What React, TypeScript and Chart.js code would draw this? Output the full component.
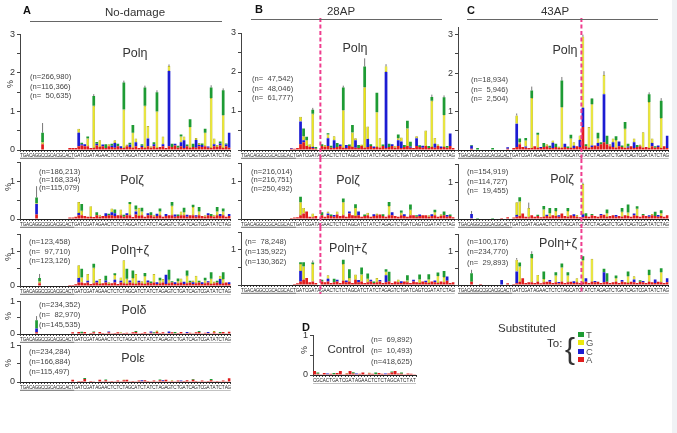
import React, { useEffect, useRef } from "react";
import { Chart, registerables } from "chart.js";
Chart.register(...registerables);

const FONT = "'Liberation Sans', Arial, Helvetica, sans-serif";
Chart.defaults.font.family = FONT;

const SUB_COLORS: Record<string, string> = { T: "#1e9b34", G: "#ebe80e", C: "#1c1cd2", A: "#e01c1c" };
const SUB_BORDERS: Record<string, string> = { T: "#1e9b34", G: "#a9a012", C: "#1c1cd2", A: "#e01c1c" };
const SUB_LABELS = ["T", "G", "C", "A"];

const TEMPLATE_SEQ = "TGACAGGCCGCACGCACTGATCGATAGAACTCTCTAGCATCTATCTAGAGTCTGATCAGTCGATATCTAG".split("");
const CONTROL_SEQ = "CGCACTGATCGATAGAACTCTCTAGCATCTAT".split("");
const PRIMER_LEN = 18;

// ---------- A: No-damage, Pol eta ----------
const etaA_A = [0,0,0,0,0,0,0,0.15,0,0, 0,0,0,0,0,0,0.05,0.05,0.05,0.1, 0.12,0.1,0.1,0.05,0.05,0.12,0.08,0.1,0.05,0.1, 0.08,0.06,0.1,0.05,0.05,0.1,0.08,0.06,0.1,0.05, 0.08,0.05,0.1,0.06,0.1,0.05,0.08,0.1,0.05,0.1, 0.08,0.12,0.06,0.1,0.05,0.1,0.05,0.08,0.06,0.1, 0.08,0.1,0.06,0.05,0.1,0.08,0.12,0.05,0.1,0.06];
const etaA_C = [0,0,0,0,0,0,0,0,0,0, 0,0,0,0,0,0,0,0,0,0.35, 0.03,0.05,0,0,0,0.04,0,0.04,0,0, 0.03,0.12,0,0.05,0,0,0.06,0,0.1,0, 0.03,0,0.2,0,0.05,0,0,0.05,0,1.95, 0,0.04,0,0.1,0.2,0,0,0,0.2,0.03, 0.05,0,0.03,0,0.05,0,0.05,0,0.04,0.39];
const etaA_G = [0,0,0,0,0,0,0,0.05,0,0, 0,0,0,0,0,0,0,0,0,0.1, 0,0,0.2,0,1.1,0,0.17,0,0,0.05, 0,0.07,0,0,1.0,0.04,0,0.39,0.1,0, 0,1.1,0.32,0.04,0,0.95,0,0.2,0,0.13, 0,0,0,0.15,0.1,0,0.55,0,0.05,0.05, 0,0.35,0,1.3,0.15,0.05,0,0.85,0,0];
const etaA_T = [0,0,0,0,0,0,0,0.25,0,0, 0,0,0,0,0,0,0,0,0,0, 0.04,0,0.05,0,0.25,0.05,0,0,0.1,0, 0.05,0,0.06,0,0.7,0,0.05,0.2,0,0, 0.04,0.47,0,0,0.05,0.5,0,0,0,0, 0.08,0,0.05,0.05,0,0.04,0.2,0.08,0,0, 0.04,0.1,0,0.27,0,0,0.05,0.65,0.03,0];
const etaA_err = [[7,0.7],[24,1.45],[34,1.8],[41,1.67],[45,1.55],[49,2.22],[56,0.8],[63,1.68],[67,1.6]];

// ---------- A: Pol zeta ----------
const zetaA_A = [0,0,0,0,0,0.12,0,0,0,0, 0,0,0,0,0,0,0.04,0.04,0.06,0.1, 0.1,0.08,0.06,0.06,0.05,0.1,0.06,0.08,0.08,0.1, 0.1,0.08,0.1,0.1,0.06,0.1,0.1,0.05,0.12,0.08, 0.1,0.06,0.1,0.1,0.06,0.08,0.1,0.06,0.08,0.1, 0.1,0.06,0.08,0.1,0.1,0.06,0.1,0.1,0.06,0.1, 0.08,0.06,0.1,0.08,0.06,0.1,0.08,0.1,0.06,0.08];
const zetaA_C = [0,0,0,0,0,0.28,0,0,0,0, 0,0,0,0,0,0,0,0,0,0.06, 0,0,0,0,0,0,0,0,0.07,0, 0.08,0.07,0,0,0,0.05,0,0,0.08,0, 0,0,0.05,0,0,0.06,0,0,0.05,0, 0,0.06,0,0,0,0.05,0,0,0.04,0, 0,0,0.05,0,0,0,0.05,0,0,0.05];
const zetaA_G = [0,0,0,0,0,0.02,0,0,0,0, 0,0,0,0,0,0,0,0,0,0.29, 0.12,0,0,0.28,0,0,0.05,0,0,0, 0.1,0,0,0.15,0,0,0.3,0,0.05,0.22, 0.1,0,0,0,0.05,0,0.1,0,0,0, 0.25,0,0,0.1,0.08,0,0,0.22,0,0.1, 0,0.04,0,0,0.05,0.1,0,0.1,0,0];
const zetaA_T = [0,0,0,0,0,0.15,0,0,0,0, 0,0,0,0,0,0,0,0,0,0, 0.18,0,0,0,0,0.08,0,0,0,0.04, 0,0.1,0,0,0.05,0,0.05,0,0.11,0, 0.1,0,0,0.08,0,0,0.08,0,0,0, 0.1,0,0.04,0,0.12,0,0,0.06,0,0.12, 0,0,0,0.05,0,0.12,0,0.08,0,0];
const zetaA_err = [[5,0.87]];

// ---------- A: Pol eta + zeta ----------
const ezA_A = [0,0,0,0,0,0,0.08,0,0,0, 0,0,0,0,0,0,0.03,0.03,0.05,0.1, 0.1,0.08,0.1,0.06,0.08,0.1,0.06,0.08,0.1,0.06, 0.08,0.1,0.06,0.1,0.08,0.06,0.1,0.08,0.06,0.1, 0.08,0.06,0.1,0.08,0.1,0.06,0.08,0.1,0.06,0.08, 0.1,0.06,0.08,0.1,0.06,0.08,0.1,0.06,0.08,0.1, 0.06,0.08,0.1,0.06,0.08,0.1,0.06,0.08,0.1,0.06];
const ezA_C = [0,0,0,0,0,0,0,0,0,0, 0,0,0,0,0,0,0,0,0,0.13, 0,0,0.05,0,0,0.05,0,0,0.06,0, 0,0.08,0,0.05,0,0,0.06,0,0,0.05, 0,0,0.06,0,0,0.05,0,0,0.27,0, 0,0.05,0,0,0.06,0,0,0.05,0,0, 0.05,0,0.04,0,0,0,0.14,0,0,0.05];
const ezA_G = [0,0,0,0,0,0,0.05,0,0,0, 0,0,0,0,0,0,0,0,0,0.37, 0.15,0,0.2,0,0.45,0,0.14,0,0,0.05, 0,0.14,0,0.1,0.67,0.15,0,0.15,0.29,0, 0.06,0.22,0,0,0.25,0,0.08,0.1,0,0.1, 0,0,0.06,0.12,0,0.22,0,0.05,0.22,0, 0,0.08,0,0.15,0.05,0,0.1,0.12,0,0];
const ezA_T = [0,0,0,0,0,0,0.1,0,0,0, 0,0,0,0,0,0,0,0,0,0, 0.25,0,0,0,0.12,0,0,0,0.14,0, 0,0.05,0,0,0,0.29,0,0.22,0,0, 0,0.1,0,0.05,0,0,0.08,0,0,0.29, 0.04,0,0.08,0,0,0.15,0.05,0,0,0.05, 0,0.08,0,0.19,0,0.05,0,0.2,0,0];
const ezA_err = [[6,0.35]];

// ---------- A: Pol delta ----------
const deltaA_A = [0,0,0,0,0,0.05,0,0,0,0, 0,0,0,0,0,0,0,0.05,0,0.06, 0.02,0.06,0,0.03,0.05,0,0.06,0.03,0.02,0.05, 0.02,0.03,0.05,0.02,0.03,0.04,0.02,0.05,0.06,0.02, 0.03,0.05,0.02,0.04,0.02,0.06,0.03,0.05,0.02,0.03, 0.05,0.02,0.03,0.06,0.02,0.03,0.04,0.02,0.05,0.06, 0.02,0.04,0.03,0.02,0.05,0.02,0.03,0.06,0.02,0.07];
const deltaA_C = [0,0,0,0,0,0.12,0,0,0,0, 0,0,0,0,0,0,0,0,0,0, 0,0,0,0,0,0,0,0,0,0.03, 0,0,0,0,0,0,0,0,0,0, 0,0,0,0.04,0,0,0,0,0,0.05, 0,0,0,0,0,0.03,0,0,0,0, 0,0,0.03,0,0,0,0,0,0,0];
const deltaA_G = [0,0,0,0,0,0,0,0,0,0, 0,0,0,0,0,0,0,0,0,0, 0,0,0,0,0,0,0,0,0,0, 0,0,0,0.03,0,0,0,0,0,0, 0,0,0,0,0,0.05,0,0,0,0, 0,0,0,0,0,0,0,0.02,0,0, 0,0,0,0,0.04,0,0,0,0,0];
const deltaA_T = [0,0,0,0,0,0.25,0,0,0,0, 0,0,0,0,0,0,0,0,0,0, 0.05,0,0,0,0.03,0,0,0,0,0, 0,0,0,0,0,0,0,0,0.03,0, 0,0,0,0,0.03,0,0,0,0,0, 0,0.04,0,0,0,0,0,0,0,0.03, 0,0,0,0,0,0,0.03,0,0,0];
const deltaA_err = [[5,0.55]];

// ---------- A: Pol epsilon ----------
const epsA_A = [0,0,0,0,0,0,0,0,0,0, 0,0,0,0,0,0,0,0.06,0,0.03, 0.03,0.08,0,0.03,0.02,0,0.06,0.02,0.05,0.02, 0.03,0.02,0.04,0.02,0.05,0.06,0.02,0.03,0.02,0.04, 0.02,0.05,0.03,0.02,0.04,0.02,0.05,0.03,0.06,0.02, 0.03,0.02,0.04,0.02,0.03,0.05,0.02,0.06,0.03,0.02, 0.04,0.02,0.03,0.05,0.02,0.03,0.02,0.04,0.02,0.1];
const epsA_C = [0,0,0,0,0,0,0,0,0,0, 0,0,0,0,0,0,0,0,0,0, 0,0,0,0,0,0,0,0,0,0, 0,0,0,0,0,0,0,0,0,0, 0.03,0,0,0,0,0,0,0.02,0,0, 0,0,0,0.02,0,0,0,0,0,0, 0,0,0,0,0,0,0,0,0,0];
const epsA_G = [0,0,0,0,0,0,0,0,0,0, 0,0,0,0,0,0,0,0,0,0, 0,0,0,0,0,0,0,0,0,0, 0,0,0,0,0.02,0,0,0,0,0, 0,0,0,0,0,0,0,0,0,0, 0.02,0,0,0,0,0,0,0,0,0, 0,0,0,0,0,0,0,0,0,0];
const epsA_T = [0,0,0,0,0,0,0,0,0,0, 0,0,0,0,0,0,0,0,0,0, 0,0.03,0,0,0,0,0,0,0.02,0, 0,0,0,0,0,0,0,0,0,0, 0,0,0,0,0,0,0.02,0,0,0, 0,0,0,0,0,0,0,0.02,0,0, 0,0,0,0.03,0,0,0,0,0,0];

// ---------- B: 28AP ----------
const etaB_A = [0,0,0,0,0,0,0,0,0,0, 0,0,0,0,0,0,0.03,0.03,0.05,0.15, 0.2,0.1,0.08,0.05,0.03,0,0.1,0.08,0.1,0.06, 0.05,0.08,0.1,0.06,0.05,0.1,0.08,0.06,0.05,0.1, 0.06,0.08,0.1,0.05,0.08,0.06,0.1,0.05,0.08,0.1, 0.06,0.1,0.05,0.08,0.1,0.06,0.05,0.1,0.08,0.06, 0.1,0.05,0.08,0.06,0.1,0.05,0.08,0.06,0.1,0.05];
const etaB_C = [0,0,0,0,0,0,0,0,0,0, 0,0,0,0,0,0,0.02,0,0,0.58, 0.05,0,0,0.03,0,0,0,0,0.2,0, 0.2,0,0.04,0,0.08,0,0,0.19,0,0, 0,0.2,0,0.04,0,0,0,1.95,0,0.05, 0,0.15,0.17,0,0,0.03,0,0.2,0,0.05, 0,0,0,0.1,0,0.04,0,0,0.32,0];
const etaB_G = [0,0,0,0,0,0,0,0,0,0, 0,0,0,0,0,0,0,0,0,0.12, 0.1,0.15,0.07,0.85,0,0,0,0.05,0.1,0, 0.1,0,0,0.96,0,0,0.37,0.05,0,0.04, 1.55,0.32,0,0,0.89,0.24,0,0.15,0,0, 0.05,0.05,0.1,0,0.45,0,0,0.05,0,0, 0.4,0,1.18,0.15,0.05,0,0.82,0,0,0];
const etaB_T = [0,0,0,0,0,0,0,0,0,0, 0,0,0,0,0,0,0,0,0,0, 0.2,0.09,0,0.1,0.05,0,0.05,0,0.03,0.05, 0,0.1,0,0.58,0,0.04,0.19,0,0.08,0, 0.53,0,0.05,0,0.5,0,0.04,0,0.08,0, 0,0.1,0,0.05,0.2,0.12,0,0,0.04,0, 0,0.05,0.1,0,0,0,0.45,0.04,0,0];
const etaB_err = [[23,1.08],[33,1.65],[40,2.35],[47,2.2],[62,1.42],[66,1.4]];

const zetaB_A = [0,0,0,0,0,0,0,0,0,0, 0,0,0,0,0,0,0.03,0.04,0.05,0.1, 0.15,0.2,0.06,0.05,0.08,0,0.1,0.06,0.1,0.08, 0.06,0.12,0.08,0.1,0.06,0.15,0.1,0.08,0.1,0.06, 0.08,0.1,0.06,0.08,0.1,0.12,0.08,0.06,0.1,0.1, 0.08,0.06,0.1,0.08,0.06,0.1,0.1,0.06,0.08,0.1, 0.1,0.06,0.08,0.1,0.06,0.08,0.1,0.06,0.08,0.05];
const zetaB_C = [0,0,0,0,0,0,0,0,0,0, 0,0,0,0,0,0,0,0,0,0, 0,0,0,0,0,0,0,0,0.05,0, 0.05,0,0,0,0,0.05,0,0,0.1,0, 0,0,0,0.05,0,0,0,0,0,0.08, 0,0,0,0.05,0,0,0,0,0.04,0, 0,0,0.05,0,0,0,0,0.05,0,0];
const zetaB_G = [0,0,0,0,0,0,0,0,0,0, 0,0,0,0,0,0,0,0,0,0.35, 0.15,0,0,0.1,0,0,0,0,0.05,0, 0,0.08,0,0.35,0,0,0,0.22,0,0, 0,0.07,0,0,0.05,0,0,0,0.25,0, 0,0,0.07,0,0,0.15,0,0,0,0, 0,0.04,0,0.08,0,0.05,0,0,0,0];
const zetaB_T = [0,0,0,0,0,0,0,0,0,0, 0,0,0,0,0,0,0,0,0,0.15, 0,0,0,0,0,0,0.08,0,0,0.04, 0,0,0,0.1,0,0,0,0.1,0,0, 0.04,0,0,0,0,0,0.05,0,0.11,0, 0,0,0.06,0,0,0.14,0,0.04,0,0, 0,0,0,0.07,0,0,0.1,0,0.04,0];

const ezB_A = [0,0,0,0,0,0,0,0,0,0, 0,0,0,0,0,0,0,0.03,0.05,0.1, 0.15,0.2,0.08,0.1,0.06,0,0.1,0.08,0.1,0.06, 0.08,0.1,0.06,0.12,0.08,0.1,0.06,0.15,0.08,0.1, 0.06,0.08,0.1,0.06,0.08,0.1,0.06,0.08,0.1,0.06, 0.1,0.08,0.06,0.1,0.08,0.06,0.1,0.08,0.06,0.1, 0.08,0.06,0.1,0.08,0.06,0.1,0.08,0.12,0.06,0.08];
const ezB_C = [0,0,0,0,0,0,0,0,0,0, 0,0,0,0,0,0,0,0,0,0.3, 0,0,0,0,0,0,0,0,0.08,0, 0,0.05,0,0,0.05,0,0,0,0.06,0, 0,0,0.05,0,0,0.04,0,0.2,0,0, 0,0,0.05,0,0,0,0.05,0,0,0, 0.04,0,0,0.05,0,0,0,0.12,0,0];
const ezB_G = [0,0,0,0,0,0,0,0,0,0, 0,0,0,0,0,0,0,0,0,0.2, 0.38,0,0,0.5,0,0,0,0,0.1,0, 0,0,0,0.48,0,0.1,0,0.15,0,0.2, 0,0.1,0,0,0.12,0,0,0.1,0,0, 0,0.08,0,0,0.05,0,0,0,0.1,0, 0,0.1,0,0,0.2,0,0.15,0,0,0];
const ezB_T = [0,0,0,0,0,0,0,0,0,0, 0,0,0,0,0,0,0,0,0,0.05, 0.12,0,0,0.04,0,0,0.05,0,0,0, 0.1,0,0,0.12,0,0.25,0,0,0,0.2, 0,0.15,0,0.04,0,0,0,0.07,0.28,0, 0,0,0,0,0.15,0,0,0,0.14,0, 0,0.15,0,0,0.1,0,0.17,0,0,0];
const ezB_err = [[23,0.7]];

// ---------- C: 43AP ----------
const etaC_A = [0,0,0,0,0.03,0,0,0,0,0, 0,0,0,0,0,0,0.03,0,0.05,0.08, 0.15,0.08,0.06,0.05,0.05,0.1,0.06,0.05,0.08,0.1, 0.06,0.05,0.08,0.05,0.06,0.08,0.05,0.06,0.05,0.1, 0.08,0.6,0.1,0.06,0.08,0.12,0.1,0.15,0.2,0.15, 0.1,0.08,0.06,0.1,0.08,0.05,0.06,0.1,0.05,0.08, 0.1,0.06,0.08,0.05,0.1,0.06,0.08,0.05,0.1,0.05];
const etaC_C = [0,0,0,0,0.08,0,0,0,0,0, 0,0,0,0,0,0,0.04,0,0,0.6, 0,0,0.03,0,0,0,0,0.03,0,0, 0,0.14,0,0,0,0.08,0,0,0.06,0, 0.18,0.5,0,0,0.04,0,0.08,0,1.25,0, 0,0.12,0,0.12,0,0,0.03,0,0.15,0, 0,0,0,0,0.08,0,0.04,0,0,0.32];
const etaC_G = [0,0,0,0,0,0,0,0,0,0, 0,0,0,0,0,0,0,0,0,0.22, 0.05,0,0.16,0,1.3,0,0.34,0,0,0.05, 0,0.06,0,0.04,1.05,0,0,0.24,0.09,0, 0.12,1.85,0,0.54,1.07,0,0.12,0,0.5,0, 0.05,0.1,0.2,0,0,0.5,0,0,0.1,0, 0.04,0.4,0,1.2,0.12,0,0,0.78,0,0];
const etaC_T = [0,0,0,0,0.02,0,0.05,0,0,0, 0,0.05,0,0,0,0,0,0,0,0, 0.1,0,0.06,0,0.2,0,0.05,0,0.1,0, 0.05,0,0.08,0,0.7,0,0.04,0.1,0,0, 0,0,0.05,0,0.15,0,0.15,0.05,0,0.22, 0,0,0.1,0,0.04,0.18,0.07,0,0,0.05, 0,0,0,0.2,0,0.04,0,0.45,0,0];
const etaC_err = [[19,0.95],[24,1.65],[34,1.9],[41,3.0],[44,1.35],[48,2.05],[63,1.5],[67,1.35]];

const zetaC_A = [0,0,0,0,0.02,0,0,0,0,0, 0,0,0,0,0.03,0,0.05,0,0.04,0.06, 0.08,0.15,0.06,0.05,0.1,0.06,0.08,0.05,0.06,0.08, 0.06,0.1,0.08,0.06,0.15,0.08,0.06,0.1,0.08,0.06, 0.05,0.05,0.08,0.06,0.1,0.08,0.06,0.1,0.12,0.06, 0.08,0.1,0.06,0.08,0.06,0.1,0.08,0.06,0.1,0.08, 0.06,0.1,0.08,0.06,0.1,0.08,0.06,0.08,0.06,0.1];
const zetaC_C = [0,0,0,0,0.12,0,0,0,0,0, 0,0,0,0,0,0,0,0,0,0.05, 0,0,0,0,0,0,0,0,0,0.04, 0,0,0,0.04,0,0,0,0,0.05,0, 0,0.08,0,0,0,0,0,0.04,0,0, 0,0,0.05,0,0,0,0,0,0.05,0, 0,0,0,0.04,0,0,0.05,0,0,0];
const zetaC_G = [0,0,0,0,0,0,0,0,0,0, 0,0,0,0,0,0,0,0,0,0.35, 0.4,0,0,0.25,0,0,0,0,0.2,0, 0.1,0,0.14,0,0,0,0.16,0,0,0.05, 0,0.83,0,0,0,0,0,0,0,0.1, 0,0,0,0,0.14,0,0.1,0,0,0.2, 0,0,0,0,0.04,0,0,0.08,0,0];
const zetaC_T = [0,0,0,0,0,0,0.03,0,0,0, 0,0.03,0,0,0,0,0,0,0,0, 0.12,0,0,0,0,0,0.04,0,0.1,0, 0.14,0,0.08,0,0,0,0.08,0,0,0, 0,0,0.08,0,0.04,0,0,0,0,0.1, 0,0,0,0,0.1,0,0.22,0,0,0.07, 0,0.04,0,0,0,0.12,0,0.08,0,0];
const zetaC_err = [[4,0.22],[23,0.45],[41,1.0]];

const ezC_A = [0,0,0,0,0.1,0,0,0.03,0,0, 0,0,0,0,0,0,0.05,0,0.03,0.05, 0.1,0.2,0.06,0.08,0.08,0.06,0.1,0.05,0.08,0.1, 0.1,0.06,0.08,0.05,0.1,0.06,0.08,0.1,0.06,0.08, 0.06,0.08,0.1,0.06,0.1,0.08,0.1,0.06,0.08,0.1, 0.06,0.08,0.1,0.06,0.1,0.08,0.06,0.1,0.08,0.06, 0.1,0.08,0.06,0.1,0.08,0.06,0.1,0.08,0.06,0.08];
const ezC_C = [0,0,0,0,0,0,0,0,0,0, 0,0,0,0,0.15,0,0,0,0,0.35, 0,0,0,0,0,0,0,0,0,0, 0.05,0,0,0.04,0,0,0,0,0.05,0, 0,0,0.1,0,0,0.04,0,0,0.3,0, 0,0,0,0,0.05,0,0,0,0.08,0, 0,0.04,0,0,0,0.1,0,0,0,0.12];
const ezC_G = [0,0,0,0,0,0,0,0,0,0, 0,0,0,0,0,0,0,0,0,0.35, 0.45,0,0,0,0.72,0,0.2,0,0.1,0, 0,0,0.2,0,0.42,0,0.2,0,0,0.12, 0,0.65,0,0,0.68,0,0,0,0,0, 0,0,0.1,0,0,0,0.2,0,0.1,0, 0,0,0,0.2,0,0,0,0.3,0,0];
const ezC_T = [0,0,0,0,0.25,0,0,0,0,0, 0,0,0,0,0,0,0,0,0,0, 0.12,0,0,0,0.12,0,0,0,0.22,0, 0,0,0.1,0,0.12,0,0.1,0,0,0, 0,0.12,0,0,0,0,0,0,0.1,0.25, 0,0,0.08,0,0,0,0.14,0,0,0, 0.04,0,0,0.15,0,0,0,0.12,0,0];
const ezC_err = [[4,0.45],[19,0.8],[24,1.0]];

// ---------- D: control ----------
const ctl_A = [0.1,0.03,0.02,0.05,0.02,0.03,0.02,0.05,0.1,0.02,0.03,0.1,0.04,0.02,0.03,0.06,0.02,0.04,0.03,0.02,0.05,0.03,0.02,0.04,0.06,0.1,0.04,0.03,0.02,0.04,0.03,0.02];
const ctl_C = [0,0,0,0,0.02,0,0,0,0,0,0,0,0,0.02,0,0,0,0,0,0,0,0,0.02,0,0,0,0,0,0,0,0,0];
const ctl_G = [0,0,0,0,0,0,0,0,0,0,0.02,0,0,0,0,0,0,0.02,0,0,0,0,0,0,0,0,0,0,0,0,0,0];
const ctl_T = [0,0.03,0,0,0,0,0.03,0,0,0,0,0,0.03,0,0,0,0,0,0,0.04,0,0,0,0,0.03,0,0,0.03,0,0,0,0];

type Spec = {
  axisX: number; right: number; canvasTop: number; axisTop: number; base: number;
  yMax: number; showZero: boolean; labels: string[]; primer: number;
  A: number[]; C: number[]; G: number[]; T: number[]; err: number[][]; ap?: number;
};

const SPECS: Spec[] = [
  { axisX: 20, right: 231, canvasTop: 27, axisTop: 32, base: 150, yMax: 3, showZero: true, labels: TEMPLATE_SEQ, primer: PRIMER_LEN, A: etaA_A, C: etaA_C, G: etaA_G, T: etaA_T, err: etaA_err },
  { axisX: 20, right: 231, canvasTop: 155, axisTop: 160, base: 219, yMax: 1.5, showZero: true, labels: TEMPLATE_SEQ, primer: PRIMER_LEN, A: zetaA_A, C: zetaA_C, G: zetaA_G, T: zetaA_T, err: zetaA_err },
  { axisX: 20, right: 231, canvasTop: 227, axisTop: 232, base: 286, yMax: 1.5, showZero: true, labels: TEMPLATE_SEQ, primer: PRIMER_LEN, A: ezA_A, C: ezA_C, G: ezA_G, T: ezA_T, err: ezA_err },
  { axisX: 20, right: 231, canvasTop: 294, axisTop: 299, base: 334, yMax: 1, showZero: true, labels: TEMPLATE_SEQ, primer: PRIMER_LEN, A: deltaA_A, C: deltaA_C, G: deltaA_G, T: deltaA_T, err: deltaA_err },
  { axisX: 20, right: 231, canvasTop: 338, axisTop: 343, base: 382, yMax: 1, showZero: true, labels: TEMPLATE_SEQ, primer: PRIMER_LEN, A: epsA_A, C: epsA_C, G: epsA_G, T: epsA_T, err: [] },
  { axisX: 241, right: 455, canvasTop: 16, axisTop: 33, base: 150, yMax: 3, showZero: false, labels: TEMPLATE_SEQ, primer: PRIMER_LEN, A: etaB_A, C: etaB_C, G: etaB_G, T: etaB_T, err: etaB_err, ap: 26 },
  { axisX: 241, right: 455, canvasTop: 156, axisTop: 161, base: 219, yMax: 1.5, showZero: false, labels: TEMPLATE_SEQ, primer: PRIMER_LEN, A: zetaB_A, C: zetaB_C, G: zetaB_G, T: zetaB_T, err: [], ap: 26 },
  { axisX: 241, right: 455, canvasTop: 225, axisTop: 230, base: 285, yMax: 1.5, showZero: false, labels: TEMPLATE_SEQ, primer: PRIMER_LEN, A: ezB_A, C: ezB_C, G: ezB_G, T: ezB_T, err: ezB_err, ap: 26 },
  { axisX: 458, right: 669, canvasTop: 16, axisTop: 27, base: 150, yMax: 3.2, showZero: false, labels: TEMPLATE_SEQ, primer: PRIMER_LEN, A: etaC_A, C: etaC_C, G: etaC_G, T: etaC_T, err: etaC_err, ap: 41 },
  { axisX: 458, right: 669, canvasTop: 157, axisTop: 162, base: 219, yMax: 1.5, showZero: false, labels: TEMPLATE_SEQ, primer: PRIMER_LEN, A: zetaC_A, C: zetaC_C, G: zetaC_G, T: zetaC_T, err: zetaC_err, ap: 41 },
  { axisX: 458, right: 669, canvasTop: 227, axisTop: 232, base: 285, yMax: 1.5, showZero: false, labels: TEMPLATE_SEQ, primer: PRIMER_LEN, A: ezC_A, C: ezC_C, G: ezC_G, T: ezC_T, err: ezC_err, ap: 41 },
  { axisX: 313, right: 416, canvasTop: 328, axisTop: 333, base: 375, yMax: 1, showZero: true, labels: CONTROL_SEQ, primer: 0, A: ctl_A, C: ctl_C, G: ctl_G, T: ctl_T, err: [] },
];

function StackChart({ s }: { s: Spec }) {
  const ref = useRef<HTMLCanvasElement | null>(null);
  const left = s.axisX - 14;
  const width = s.right - s.axisX + 15;
  const height = s.base - s.canvasTop + 9;
  useEffect(() => {
    const overlay = {
      id: "overlay",
      afterDatasetsDraw(chart: any) {
        const { ctx, chartArea } = chart;
        const x = chart.scales.x;
        const y = chart.scales.y;
        ctx.save();
        ctx.strokeStyle = "#555";
        ctx.lineWidth = 0.8;
        for (const [i, top] of s.err) {
          const total = s.A[i] + s.C[i] + s.G[i] + s.T[i];
          const px = x.getPixelForValue(i);
          ctx.beginPath();
          ctx.moveTo(px, y.getPixelForValue(total));
          ctx.lineTo(px, y.getPixelForValue(top));
          ctx.stroke();
        }
        const step = x.getPixelForValue(1) - x.getPixelForValue(0);
        const uy = chartArea.bottom + 8.3;
        if (s.primer > 0) {
          const pEnd = x.getPixelForValue(s.primer) - step / 2;
          ctx.fillStyle = "#9a9a9a";
          ctx.fillRect(chartArea.left, uy - 0.6, pEnd - chartArea.left, 1.2);
        }
        ctx.strokeStyle = "#666";
        ctx.lineWidth = 0.5;
        ctx.beginPath();
        ctx.moveTo(chartArea.left, uy + 0.4);
        ctx.lineTo(chartArea.right, uy + 0.4);
        ctx.stroke();
        if (s.ap != null) {
          const px = x.getPixelForValue(s.ap) - step / 2;
          ctx.strokeStyle = "#ef3d8e";
          ctx.lineWidth = 2;
          ctx.setLineDash([4, 2.5]);
          ctx.beginPath();
          ctx.moveTo(px, 2);
          ctx.lineTo(px, chart.height);
          ctx.stroke();
        }
        ctx.restore();
      },
    };
    const mk = (k: string, data: number[]) => ({
      label: k,
      data,
      backgroundColor: SUB_COLORS[k],
      borderColor: SUB_BORDERS[k],
      borderWidth: k === "G" ? 0.7 : 0,
      borderSkipped: false,
    });
    const chart = new Chart(ref.current as HTMLCanvasElement, {
      type: "bar",
      data: {
        labels: s.labels,
        datasets: [mk("A", s.A), mk("C", s.C), mk("G", s.G), mk("T", s.T)],
      },
      options: {
        responsive: false,
        maintainAspectRatio: false,
        animation: false,
        events: [],
        layout: { autoPadding: false, padding: { top: s.axisTop - s.canvasTop, right: 1, left: 0, bottom: 0 } },
        plugins: { legend: { display: false }, tooltip: { enabled: false }, title: { display: false } },
        datasets: { bar: { categoryPercentage: 1, barPercentage: 0.9 } },
        scales: {
          x: {
            stacked: true,
            grid: { display: true, drawOnChartArea: false, tickLength: 2, color: "#444" },
            border: { display: true, color: "#222" },
            ticks: { autoSkip: false, maxRotation: 0, minRotation: 0, padding: 1, color: "#222", font: { size: 4.6, family: FONT } },
            afterFit: (sc: any) => { sc.height = 9; },
          },
          y: {
            stacked: true,
            min: 0,
            max: s.yMax,
            border: { display: true, color: "#444" },
            grid: { drawOnChartArea: false, tickLength: 3, color: "#444" },
            ticks: {
              stepSize: 0.5,
              includeBounds: false,
              padding: 2,
              color: "#333",
              font: { size: 9, family: FONT },
              callback: (v: any) => (Number.isInteger(v) && (v !== 0 || s.showZero) ? String(v) : ""),
            },
            afterFit: (sc: any) => { sc.width = 14; },
          },
        },
      } as any,
      plugins: [overlay],
    });
    return () => chart.destroy();
  }, []);
  return (
    <canvas
      ref={ref}
      width={width}
      height={height}
      style={{ position: "absolute", left, top: s.canvasTop, width, height }}
    />
  );
}

const txt = (extra: React.CSSProperties): React.CSSProperties => ({
  position: "absolute",
  fontFamily: FONT,
  whiteSpace: "pre",
  lineHeight: 1,
  color: "#333",
  ...extra,
});

type NBlock = { x: number; y: number; lh: number; lines: string[] };
const N_BLOCKS: NBlock[] = [
  { x: 30, y: 77, lh: 9.2, lines: ["(n=266,980)", "(n=116,366)", "(n=  50,635)"] },
  { x: 39, y: 172, lh: 8.3, lines: ["(n=186,213)", "(n=168,334)", "(n=115,079)"] },
  { x: 29, y: 242, lh: 9.4, lines: ["(n=123,458)", "(n=  97,710)", "(n=123,126)"] },
  { x: 39, y: 305, lh: 10, lines: ["(n=234,352)", "(n=  82,970)", "(n=145,535)"] },
  { x: 29, y: 352, lh: 10, lines: ["(n=234,284)", "(n=166,884)", "(n=115,497)"] },
  { x: 252, y: 79, lh: 9.3, lines: ["(n=  47,542)", "(n=  48,046)", "(n=  61,777)"] },
  { x: 251, y: 172, lh: 8.4, lines: ["(n=216,014)", "(n=216,751)", "(n=250,492)"] },
  { x: 245, y: 242, lh: 9.7, lines: ["(n=  78,248)", "(n=135,922)", "(n=130,362)"] },
  { x: 471, y: 80, lh: 9.3, lines: ["(n=18,934)", "(n=  5,946)", "(n=  2,504)"] },
  { x: 467, y: 172, lh: 9.2, lines: ["(n=154,919)", "(n=114,727)", "(n=  19,455)"] },
  { x: 467, y: 242, lh: 10.4, lines: ["(n=100,176)", "(n=234,770)", "(n=  29,893)"] },
  { x: 371, y: 339, lh: 11, lines: ["(n=  69,892)", "(n=  10,493)", "(n=418,625)"] },
];

type TitleItem = { x: number; y: number; t: string; size: number };
const TITLES: TitleItem[] = [
  { x: 135, y: 53, t: "Polη", size: 12.5 },
  { x: 132, y: 180, t: "Polζ", size: 12.5 },
  { x: 130, y: 250, t: "Polη+ζ", size: 12.5 },
  { x: 134, y: 310, t: "Polδ", size: 12.5 },
  { x: 133, y: 358, t: "Polε", size: 12.5 },
  { x: 355, y: 48, t: "Polη", size: 12.5 },
  { x: 348, y: 180, t: "Polζ", size: 12.5 },
  { x: 348, y: 248, t: "Polη+ζ", size: 12.5 },
  { x: 565, y: 50, t: "Polη", size: 12.5 },
  { x: 562, y: 179, t: "Polζ", size: 12.5 },
  { x: 558, y: 243, t: "Polη+ζ", size: 12.5 },
  { x: 346, y: 350, t: "Control", size: 11.5 },
  { x: 135, y: 13, t: "No-damage", size: 11.5 },
  { x: 341, y: 12, t: "28AP", size: 11.5 },
  { x: 555, y: 12, t: "43AP", size: 11.5 },
];

const PERCENTS = [[10, 84], [8, 187], [8, 257], [8, 316], [8, 363], [304, 350]];
const LETTERS = [["A", 23, 5], ["B", 255, 4], ["C", 467, 5], ["D", 302, 322]];
const HEAD_LINES = [[30, 222, 20.5], [251, 442, 19], [467, 658, 19]];

export default function App() {
  const legendY = [331.5, 340, 348.5, 357];
  return (
    <div style={{ position: "absolute", left: 0, top: 0, width: 677, height: 433, background: "#fff", overflow: "hidden" }}>
      {SPECS.map((s, i) => (
        <StackChart key={i} s={s} />
      ))}
      {HEAD_LINES.map(([a, b, y], i) => (
        <div key={"hl" + i} style={{ position: "absolute", left: a, top: y, width: b - a, height: 1, background: "#666" }} />
      ))}
      {LETTERS.map(([t, x, y]) => (
        <div key={"L" + t} style={txt({ left: x as number, top: y as number, fontSize: 11, fontWeight: 700, color: "#111" })}>{t}</div>
      ))}
      {TITLES.map((it, i) => (
        <div key={"t" + i} style={txt({ left: it.x, top: it.y, fontSize: it.size, transform: "translate(-50%,-50%)", color: "#333" })}>{it.t}</div>
      ))}
      {N_BLOCKS.map((b, i) => (
        <div key={"n" + i} style={txt({ left: b.x, top: b.y - b.lh / 2, fontSize: 7.6, lineHeight: b.lh + "px", color: "#444" })}>
          {b.lines.join("\n")}
        </div>
      ))}
      {PERCENTS.map(([x, y], i) => (
        <div key={"p" + i} style={txt({ left: x, top: y, fontSize: 9, transform: "translate(-50%,-50%) rotate(-90deg)", color: "#333" })}>%</div>
      ))}
      <div style={txt({ left: 498, top: 323, fontSize: 11.5, color: "#333" })}>Substituted</div>
      <div style={txt({ left: 547, top: 338, fontSize: 11.5, color: "#333" })}>To:</div>
      <div style={txt({ left: 565, top: 333, fontSize: 30, fontWeight: 300, color: "#333", lineHeight: "32px", height: 32 })}>{"{"}</div>
      {SUB_LABELS.map((k, i) => (
        <React.Fragment key={"lg" + k}>
          <div style={{ position: "absolute", left: 578, top: legendY[i], width: 6, height: 5, background: SUB_COLORS[k] }} />
          <div style={txt({ left: 586, top: legendY[i] - 2, fontSize: 9.5, color: "#555" })}>{k}</div>
        </React.Fragment>
      ))}
      <div style={{ position: "absolute", left: 672, top: 0, width: 5, height: 433, background: "#f0f2f5" }} />
    </div>
  );
}
